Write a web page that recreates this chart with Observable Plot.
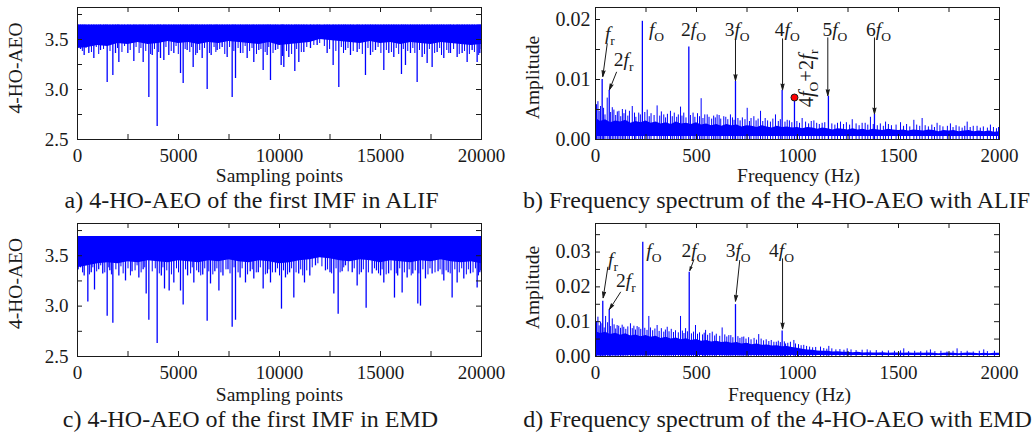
<!DOCTYPE html>
<html><head><meta charset="utf-8">
<script src="https://cdn.jsdelivr.net/npm/d3@7"></script>
<script src="https://cdn.jsdelivr.net/npm/@observablehq/plot@0.6"></script>
<style>
body{margin:0;background:#fff;}
#wrap{position:relative;width:1036px;height:432px;background:#fff;}
#wrap svg{position:absolute;}
</style></head><body><div id="wrap"></div>
<script>
// ---------------- DATA ----------------
// time-domain panels (a: ALIF, c: EMD)
const timeTicks = [0, 5000, 10000, 15000, 20000];
const timeMinor = [0, 2500, 5000, 7500, 10000, 12500, 15000, 17500, 20000];
const aeoTicks = [2.5, 3.0, 3.5];
const aeoMinor = [2.5, 2.75, 3.0, 3.25, 3.5, 3.75];
const bodyStep = 500;
const aTop = 3.645;
const aBodyLow = [3.41,3.42,3.44,3.43,3.46,3.45,3.47,3.45,3.46,3.48,3.46,3.47,3.45,3.47,3.46,3.48,3.47,3.46,3.45,3.47,3.44,3.45,3.46,3.47,3.50,3.49,3.48,3.47,3.46,3.48,3.46,3.47,3.45,3.47,3.46,3.45,3.47,3.46,3.45,3.44,3.45];
const aSpikes = [[150,3.40],[330,3.34],[560,3.36],[809,3.31],[1139,3.39],[1469,3.07],[1750,3.14],[1881,3.36],[2047,3.27],[2492,3.36],[2789,3.28],[3251,3.27],[3532,2.92],[3700,3.34],[3944,2.63],[4109,3.31],[4274,3.29],[4520,3.34],[4769,3.36],[5100,3.16],[5231,3.06],[5429,3.39],[5726,3.22],[5924,3.36],[6172,3.31],[6419,3.00],[6617,3.34],[6914,3.39],[7161,3.42],[7409,3.32],[7657,2.92],[7822,3.11],[8069,3.36],[8399,3.31],[8728,3.27],[8976,3.39],[9191,3.19],[9389,3.34],[9554,3.09],[9801,3.39],[10082,3.24],[10214,3.22],[10461,3.32],[10758,3.18],[10956,3.27],[11204,3.37],[11534,3.41],[11864,3.44],[12359,3.36],[12656,3.24],[12936,3.02],[13266,3.39],[13514,3.34],[13844,3.37],[14256,3.14],[14504,3.34],[14751,3.39],[15164,3.19],[15411,3.36],[15659,3.32],[16038,3.15],[16236,3.24],[16484,3.36],[16814,3.07],[17061,3.32],[17309,3.26],[17556,3.22],[17804,3.37],[18134,3.31],[18464,3.36],[18794,3.32],[19041,3.36],[19289,3.27],[19536,3.39],[19784,3.27],[19916,3.36]];
const aFine = [[60,3.43],[240,3.38],[420,3.41],[690,3.37],[930,3.42],[1050,3.35],[1290,3.40],[1380,3.44],[1610,3.38],[1980,3.41],[2200,3.37],[2330,3.43],[2610,3.39],[2900,3.42],[3050,3.36],[3140,3.41],[3380,3.38],[3620,3.35],[3810,3.40],[4020,3.37],[4380,3.42],[4640,3.38],[4880,3.43],[4990,3.35],[5330,3.40],[5560,3.37],[5650,3.42],[5850,3.34],[6050,3.39],[6290,3.41],[6530,3.36],[6760,3.42],[6850,3.37],[7040,3.40],[7290,3.35],[7530,3.42],[7740,3.38],[7950,3.41],[8190,3.36],[8300,3.43],[8520,3.38],[8640,3.41],[8860,3.35],[9080,3.40],[9290,3.37],[9470,3.42],[9680,3.36],[9920,3.40],[10150,3.33],[10350,3.38],[10600,3.35],[10850,3.40],[11080,3.37],[11350,3.42],[11700,3.44],[11990,3.46],[12220,3.43],[12480,3.40],[12790,3.38],[13060,3.42],[13170,3.36],[13390,3.41],[13650,3.38],[13950,3.40],[14100,3.35],[14380,3.41],[14620,3.37],[14880,3.42],[15020,3.36],[15290,3.39],[15540,3.37],[15780,3.41],[15900,3.35],[16130,3.40],[16350,3.38],[16600,3.41],[16700,3.36],[16930,3.39],[17180,3.35],[17420,3.40],[17680,3.36],[17930,3.41],[18020,3.34],[18280,3.39],[18380,3.36],[18620,3.40],[18900,3.35],[19160,3.38],[19400,3.35],[19650,3.37],[19860,3.34],[19980,3.40]];
const cTop = 3.69;
const cBodyLow = [3.38,3.40,3.42,3.43,3.42,3.44,3.43,3.45,3.44,3.43,3.45,3.44,3.43,3.45,3.44,3.46,3.44,3.43,3.45,3.44,3.42,3.43,3.45,3.46,3.48,3.47,3.45,3.44,3.46,3.45,3.43,3.45,3.44,3.43,3.45,3.44,3.46,3.44,3.43,3.44,3.42];
const cSpikes = [[150,3.38],[330,3.30],[512,3.04],[680,3.33],[842,3.16],[1050,3.36],[1250,3.32],[1469,2.90],[1600,3.35],[1750,2.83],[2047,3.30],[2377,3.25],[2700,3.34],[3037,3.28],[3250,3.36],[3400,3.12],[3532,2.86],[3944,2.63],[4150,3.30],[4307,3.17],[4538,3.15],[4769,3.23],[5099,3.15],[5231,3.01],[5450,3.30],[5759,3.23],[6000,3.33],[6200,3.31],[6419,2.85],[6584,3.22],[6800,3.34],[7000,3.15],[7200,3.30],[7450,3.36],[7657,2.79],[7822,2.86],[8050,3.28],[8316,3.23],[8550,3.34],[8728,3.27],[8950,3.33],[9191,3.17],[9400,3.32],[9554,3.23],[9800,3.33],[10098,2.97],[10296,3.28],[10500,3.33],[10709,3.08],[10950,3.32],[11237,3.23],[11500,3.30],[11781,3.40],[12276,3.35],[12500,3.33],[12689,3.12],[12904,2.92],[13100,3.34],[13266,3.40],[13600,3.33],[13844,3.20],[14050,3.33],[14289,2.98],[14586,3.32],[14800,3.35],[15000,3.30],[15164,3.23],[15400,3.32],[15692,3.08],[15850,3.30],[16071,3.13],[16319,3.28],[16600,3.32],[16847,3.02],[16979,3.00],[17226,3.27],[17556,3.32],[17850,3.34],[18134,3.25],[18350,3.33],[18546,3.08],[18794,3.23],[19124,3.27],[19454,3.32],[19784,3.18],[19916,3.33]];
const cFine = [[40,3.36],[250,3.33],[420,3.40],[590,3.31],[760,3.38],[950,3.34],[1150,3.40],[1350,3.33],[1550,3.38],[1680,3.31],[1900,3.36],[2150,3.39],[2260,3.32],[2500,3.37],[2620,3.30],[2850,3.35],[2950,3.40],[3150,3.33],[3330,3.38],[3700,3.34],[3850,3.37],[4050,3.32],[4230,3.38],[4420,3.35],[4650,3.31],[4900,3.37],[5000,3.33],[5350,3.36],[5600,3.32],[5680,3.38],[5900,3.35],[6100,3.30],[6300,3.37],[6500,3.34],[6700,3.31],[6900,3.37],[7100,3.33],[7350,3.36],[7550,3.32],[7750,3.38],[7950,3.33],[8150,3.37],[8420,3.31],[8650,3.36],[8850,3.33],[9050,3.38],[9300,3.31],[9480,3.36],[9650,3.33],[9900,3.37],[10000,3.30],[10200,3.35],[10400,3.31],[10600,3.37],[10820,3.33],[11050,3.36],[11150,3.30],[11350,3.35],[11620,3.38],[11900,3.42],[12100,3.39],[12380,3.36],[12580,3.32],[12800,3.37],[13000,3.33],[13180,3.38],[13400,3.34],[13700,3.37],[13950,3.31],[14150,3.36],[14400,3.33],[14700,3.37],[14900,3.32],[15080,3.36],[15280,3.31],[15520,3.35],[15780,3.32],[15950,3.37],[16180,3.33],[16420,3.36],[16520,3.30],[16720,3.35],[16900,3.32],[17100,3.36],[17350,3.31],[17450,3.37],[17700,3.33],[17950,3.36],[18050,3.31],[18250,3.35],[18450,3.32],[18680,3.36],[18900,3.33],[19020,3.37],[19250,3.31],[19350,3.36],[19580,3.33],[19700,3.37],[19850,3.30],[19960,3.35]];

// spectrum panels (b: ALIF, d: EMD)
const freqTicks = [0, 500, 1000, 1500, 2000];
const freqMinor = [0, 250, 500, 750, 1000, 1250, 1500, 1750, 2000];
const bAmpTicks = [0, 0.01, 0.02];
const bAmpMinor = [0, 0.005, 0.01, 0.015, 0.02];
const dAmpTicks = [0, 0.01, 0.02, 0.03];
const dAmpMinor = [0, 0.005, 0.01, 0.015, 0.02, 0.025, 0.03, 0.035];
const noiseStep = 25;
const bFloor = 0.0005;
const bUpper = [0.0036,0.0030,0.0033,0.0028,0.0031,0.0029,0.0032,0.0027,0.0030,0.0028,0.0031,
0.0027,0.0029,0.0026,0.0028,0.0025,0.0029,0.0026,0.0027,0.0025,0.0028,
0.0024,0.0026,0.0023,0.0025,0.0022,0.0025,0.0023,0.0024,0.0021,0.0023,
0.0022,0.0020,0.0023,0.0021,0.0019,0.0022,0.0020,0.0021,0.0019,0.0020,
0.0018,0.0020,0.0019,0.0017,0.0019,0.0018,0.0016,0.0018,0.0017,0.0016,
0.0018,0.0016,0.0017,0.0015,0.0017,0.0016,0.0015,0.0017,0.0016,0.0015,
0.0016,0.0014,0.0016,0.0015,0.0014,0.0016,0.0015,0.0013,0.0015,0.0014,
0.0015,0.0013,0.0014,0.0015,0.0013,0.0014,0.0013,0.0014,0.0012,0.0013];
const bSpikes = [[12,0.0063],[25,0.0055],[58,0.0069],[91,0.0049],[116,0.0047],[149,0.0049],[182,0.0055],[214,0.0044],[256,0.0049],[305,0.0056],[338,0.0041],[371,0.0047],[421,0.0054],[437,0.0044],[483,0.0044],[523,0.0068],[553,0.0041],[602,0.0041],[635,0.0038],[668,0.0041],[751,0.0052],[784,0.0038],[817,0.0047],[891,0.0041],[949,0.0032],[1023,0.0035],[1081,0.0031],[1122,0.0027],[1213,0.0029],[1271,0.0033],[1320,0.0027],[1361,0.0037],[1436,0.0029],[1510,0.0028],[1576,0.0032],[1617,0.0035],[1691,0.0027],[1757,0.0026],[1840,0.0029],[1889,0.0022],[1955,0.0024]];
const bFine = [[5,0.0058],[18,0.0047],[40,0.0052],[47,0.0041],[75,0.0045],[83,0.0053],[100,0.0040],[108,0.0046],[125,0.0038],[133,0.0050],[141,0.0043],[160,0.0039],[168,0.0047],[193,0.0044],[200,0.0037],[222,0.0041],[244,0.0045],[266,0.0038],[275,0.0043],[290,0.0040],[318,0.0039],[326,0.0046],[347,0.0036],[356,0.0042],[380,0.0038],[390,0.0044],[402,0.0037],[410,0.0041],[428,0.0039],[448,0.0036],[470,0.0040],[492,0.0037],[505,0.0043],[515,0.0038],[532,0.0035],[541,0.0041],[562,0.0037],[575,0.0034],[585,0.0039],[593,0.0036],[612,0.0040],[620,0.0034],[645,0.0037],[655,0.0033],[678,0.0036],[686,0.0032],[705,0.0035],[716,0.0031],[727,0.0036],[740,0.0033],[762,0.0030],[770,0.0035],[795,0.0031],[805,0.0034],[828,0.0030],[840,0.0035],[852,0.0031],[866,0.0029],[878,0.0034],[905,0.0030],[915,0.0033],[938,0.0029],[960,0.0031],[972,0.0028],[997,0.0030],[1010,0.0027],[1040,0.0029],[1055,0.0026],[1068,0.0030],[1095,0.0027],[1108,0.0025],[1135,0.0028],[1170,0.0026],[1185,0.0024],[1198,0.0027],[1228,0.0025],[1242,0.0028],[1258,0.0024],[1290,0.0026],[1305,0.0023],[1335,0.0027],[1348,0.0024],[1375,0.0025],[1395,0.0023],[1410,0.0026],[1425,0.0022],[1450,0.0025],[1465,0.0023],[1488,0.0024],[1525,0.0022],[1540,0.0025],[1556,0.0021],[1590,0.0024],[1605,0.0022],[1632,0.0023],[1648,0.0021],[1665,0.0024],[1678,0.0020],[1705,0.0023],[1720,0.0021],[1742,0.0022],[1770,0.0020],[1785,0.0023],[1800,0.0021],[1815,0.0019],[1828,0.0022],[1855,0.0020],[1870,0.0022],[1905,0.0019],[1920,0.0021],[1940,0.0019],[1970,0.0020],[1985,0.0018],[1995,0.0020]];
const bPeaks = [[33,0.0100],[68,0.0082],[232,0.0197],[462,0.0154],[693,0.0097],[924,0.0082],[985,0.0070],[1153,0.0072],[1381,0.0042]];
const bMarked = [[985,0.0070]];
const bLabels = [[71,0.01767,"f_r"],[139,0.01333,"2f_r"],[302,0.01833,"f_O"],[485,0.01833,"2f_O"],[701,0.01833,"3f_O"],[949,0.01833,"4f_O"],[1185,0.01833,"5f_O"],[1401,0.01833,"6f_O"]];
const bRotLabel = [[1044,0.01017,"4f_O+2f_r"]];
const bArrows = [[58,0.01595,36,0.0105],[104,0.01122,69,0.00828],[693,0.01662,693,0.00983],[926,0.01678,926,0.00828],[1150,0.01695,1150,0.00733],[1381,0.01695,1381,0.00428]];

const dFloor = 0.0003;
const dUpper = [0.0072,0.0066,0.0070,0.0063,0.0067,0.0061,0.0065,0.0059,0.0062,0.0057,0.0060,
0.0055,0.0058,0.0052,0.0055,0.0050,0.0053,0.0048,0.0051,0.0046,0.0049,
0.0044,0.0046,0.0042,0.0044,0.0040,0.0042,0.0038,0.0040,0.0036,0.0038,
0.0034,0.0036,0.0032,0.0033,0.0030,0.0031,0.0028,0.0029,0.0026,0.0024,
0.0021,0.0019,0.0018,0.0016,0.0015,0.0015,0.0013,0.0014,0.0012,0.0012,
0.0011,0.0012,0.0010,0.0011,0.0010,0.0010,0.0011,0.0009,0.0010,0.0010,
0.0009,0.0010,0.0009,0.0010,0.0009,0.0010,0.0009,0.0008,0.0009,0.0010,
0.0009,0.0008,0.0009,0.0010,0.0009,0.0008,0.0009,0.0008,0.0009,0.0009];
const dSpikes = [[12,0.0113],[25,0.0099],[50,0.0115],[83,0.0108],[107,0.0089],[140,0.0084],[173,0.0094],[206,0.0086],[264,0.0115],[305,0.0089],[355,0.0084],[421,0.0115],[446,0.0080],[495,0.0089],[545,0.0075],[578,0.0070],[627,0.0082],[660,0.0060],[734,0.0056],[808,0.0063],[883,0.0041],[941,0.0036],[982,0.0046],[1031,0.0032],[1114,0.0027],[1155,0.0029],[1246,0.0022],[1345,0.0019],[1526,0.0022],[1658,0.0019],[1790,0.0022],[1922,0.0019]];
const dFine = [[5,0.0100],[18,0.0088],[32,0.0094],[43,0.0082],[60,0.0097],[75,0.0086],[92,0.0091],[100,0.0079],[115,0.0087],[124,0.0081],[132,0.0090],[150,0.0078],[160,0.0085],[182,0.0080],[190,0.0087],[198,0.0076],[215,0.0083],[224,0.0078],[244,0.0081],[255,0.0075],[272,0.0082],[283,0.0074],[294,0.0079],[315,0.0072],[326,0.0080],[338,0.0070],[346,0.0076],[364,0.0071],[375,0.0078],[386,0.0069],[396,0.0074],[410,0.0068],[430,0.0073],[438,0.0066],[455,0.0071],[475,0.0065],[485,0.0070],[505,0.0064],[515,0.0068],[530,0.0062],[538,0.0067],[555,0.0061],[566,0.0066],[590,0.0059],[598,0.0064],[615,0.0058],[640,0.0062],[650,0.0056],[670,0.0060],[680,0.0054],[705,0.0057],[715,0.0052],[725,0.0055],[745,0.0050],[758,0.0054],[770,0.0048],[785,0.0052],[797,0.0047],[820,0.0050],[832,0.0045],[845,0.0048],[858,0.0043],[870,0.0046],[895,0.0041],[905,0.0044],[915,0.0040],[935,0.0042],[952,0.0038],[965,0.0041],[990,0.0036],[1005,0.0034],[1018,0.0031],[1045,0.0029],[1060,0.0027],[1075,0.0025],[1090,0.0026],[1130,0.0023],[1145,0.0021],[1170,0.0022],[1190,0.0019],[1210,0.0020],[1230,0.0018],[1265,0.0019],[1290,0.0017],[1320,0.0018],[1360,0.0016],[1390,0.0017],[1420,0.0015],[1450,0.0016],[1480,0.0015],[1510,0.0016],[1550,0.0014],[1580,0.0015],[1610,0.0014],[1640,0.0016],[1680,0.0014],[1710,0.0015],[1740,0.0013],[1770,0.0015],[1810,0.0014],[1840,0.0015],[1870,0.0013],[1900,0.0015],[1940,0.0014],[1975,0.0015]];
const dPeaks = [[36,0.0159],[68,0.0134],[234,0.0328],[464,0.0242],[693,0.0149],[924,0.0073]];
const dLabels = [[87,0.0279,"f_r"],[150,0.0218,"2f_r"],[289,0.0303,"f_O"],[487,0.0303,"2f_O"],[706,0.0303,"3f_O"],[921,0.0303,"4f_O"]];
const dArrows = [[61,0.02566,38,0.01687],[124,0.01848,69,0.01351],[487,0.02779,467,0.02471],[714,0.02759,693,0.01589],[926,0.02807,926,0.00796]];

// texts
const captions = ["a) 4-HO-AEO of the first IMF in ALIF", "b) Frequency spectrum of the 4-HO-AEO with ALIF",
                  "c) 4-HO-AEO of the first IMF in EMD", "d) Frequency spectrum of the 4-HO-AEO with EMD"];
const xTitles = ["Sampling points", "Frequency (Hz)"];
const yTitles = ["4-HO-AEO", "Amplitude"];

// ---------------- DRAWING ----------------
const W = 518, H = 216, ML = 77, MR = 37;
const blue = "#0000ff", ink = "#1a1a1a";
const serif = "'Liberation Serif','Times New Roman',serif";

function edgeTicks(xm, ym, fw, fh) {
  return [
    Plot.tickX(xm, {x: d => d, insetTop: fh - 5, stroke: ink}),
    Plot.tickX(xm, {x: d => d, insetBottom: fh - 5, stroke: ink}),
    Plot.tickY(ym, {y: d => d, insetRight: fw - 5, stroke: ink}),
    Plot.tickY(ym, {y: d => d, insetLeft: fw - 5, stroke: ink})
  ];
}

function panel(o) {
  const fh = H - o.mt - o.mb, fw = W - ML - MR;
  return Plot.plot({
    width: W, height: H, marginLeft: ML, marginRight: MR, marginTop: o.mt, marginBottom: o.mb,
    style: {fontFamily: serif, color: ink, background: "transparent", overflow: "visible"},
    x: {domain: o.xDomain}, y: {domain: o.yDomain},
    marks: [
      ...o.marks,
      Plot.frame({stroke: ink, strokeWidth: 1}),
      ...edgeTicks(o.xMinor, o.yMinor, fw, fh),
      Plot.axisX({ticks: o.xTicks, tickSize: 0, tickPadding: 9, tickFormat: d => String(d), fontSize: 19, label: null}),
      Plot.axisY({ticks: o.yTicks, tickSize: 0, tickPadding: o.yPad, tickFormat: o.yFmt, fontSize: o.yFont, label: null}),
      Plot.text([o.xTitle], {text: d => d, frameAnchor: "bottom", dx: o.xtDx, dy: o.xtDy, fontSize: 19.5, lineAnchor: "middle"}),
      Plot.text([o.yTitle], {text: d => d, frameAnchor: "left", rotate: -90, dx: o.ytDx, dy: o.ytDy, fontSize: 19.5, lineAnchor: "middle", textAnchor: "middle"}),
      Plot.text([o.caption], {text: d => d, frameAnchor: "bottom", dx: o.capDx, dy: o.capDy, fontSize: 24, lineAnchor: "middle"})
    ]
  });
}

function timeMarks(bodyLow, top, spikes, fine) {
  const body = bodyLow.map((v, i) => ({x: i * bodyStep, lo: v}));
  return [
    Plot.areaY(body, {x: "x", y1: "lo", y2: top, fill: blue}),
    Plot.ruleX(fine, {x: d => d[0], y1: d => d[1], y2: top, stroke: blue, strokeWidth: 1}),
    Plot.ruleX(spikes, {x: d => d[0], y1: d => d[1], y2: top, stroke: blue, strokeWidth: 1.3})
  ];
}

function specMarks(upper, floor, spikes, fine, peaks) {
  const noise = upper.map((v, i) => ({f: i * noiseStep, amp: v}));
  return [
    Plot.areaY(noise, {x: "f", y1: floor, y2: "amp", fill: blue}),
    Plot.ruleX(fine, {x: d => d[0], y1: 0, y2: d => d[1], stroke: blue, strokeWidth: 1}),
    Plot.ruleX(spikes, {x: d => d[0], y1: 0, y2: d => d[1], stroke: blue, strokeWidth: 1}),
    Plot.ruleX(peaks, {x: d => d[0], y1: 0, y2: d => d[1], stroke: blue, strokeWidth: 1.3})
  ];
}

function annot(labels, arrows) {
  return [
    Plot.arrow(arrows, {x1: d => d[0], y1: d => d[1], x2: d => d[2], y2: d => d[3], stroke: ink, fill: ink, strokeWidth: 1, headLength: 9, headAngle: 30}),
    Plot.text(labels, {x: d => d[0], y: d => d[1], text: d => d[2], fontSize: 19.5, textAnchor: "middle", lineAnchor: "middle", fill: ink})
  ];
}

const pa = panel({mt: 7, mb: 77, xDomain: [0, 20000], yDomain: [2.5, 3.82],
  xTicks: timeTicks, xMinor: timeMinor, yTicks: aeoTicks, yMinor: aeoMinor, yPad: 9, yFmt: d => d.toFixed(1), yFont: 19,
  xTitle: xTitles[0], xtDx: 0, xtDy: 36, yTitle: yTitles[0], ytDx: -62, ytDy: -5.5,
  caption: captions[0], capDx: -28, capDy: 61,
  marks: timeMarks(aBodyLow, aTop, aSpikes, aFine)});

const pb = panel({mt: 7, mb: 77, xDomain: [0, 2000], yDomain: [0, 0.022],
  xTicks: freqTicks, xMinor: freqMinor, yTicks: bAmpTicks, yMinor: bAmpMinor, yPad: 5, yFmt: d => d.toFixed(2), yFont: 20,
  xTitle: xTitles[1], xtDx: 1, xtDy: 36, yTitle: yTitles[1], ytDx: -63, ytDy: 4,
  caption: captions[1], capDx: -21, capDy: 61,
  marks: [...specMarks(bUpper, bFloor, bSpikes, bFine, bPeaks),
    Plot.dot(bMarked, {x: d => d[0], y: d => d[1], r: 3.5, fill: "#ff0000", stroke: ink, strokeWidth: 1}),
    ...annot(bLabels, bArrows),
    Plot.text(bRotLabel, {x: d => d[0], y: d => d[1], text: d => d[2], rotate: -90, fontSize: 20.5, textAnchor: "middle", lineAnchor: "middle", fill: ink})]});

const pc = panel({mt: 7, mb: 76, xDomain: [0, 20000], yDomain: [2.5, 3.82],
  xTicks: timeTicks, xMinor: timeMinor, yTicks: aeoTicks, yMinor: aeoMinor, yPad: 9, yFmt: d => d.toFixed(1), yFont: 19,
  xTitle: xTitles[0], xtDx: 0, xtDy: 38, yTitle: yTitles[0], ytDx: -62, ytDy: -6.5,
  caption: captions[2], capDx: -29, capDy: 63,
  marks: timeMarks(cBodyLow, cTop, cSpikes, cFine)});

const pd = panel({mt: 7, mb: 76, xDomain: [0, 2000], yDomain: [0, 0.0382],
  xTicks: freqTicks, xMinor: freqMinor, yTicks: dAmpTicks, yMinor: dAmpMinor, yPad: 5, yFmt: d => d.toFixed(2), yFont: 20,
  xTitle: xTitles[1], xtDx: -8, xtDy: 38, yTitle: yTitles[1], ytDx: -63, ytDy: -2.5,
  caption: captions[3], capDx: -20, capDy: 63,
  marks: [...specMarks(dUpper, dFloor, dSpikes, dFine, dPeaks), ...annot(dLabels, dArrows)]});

// italic f and subscripts for harmonic labels
function richify(svg) {
  d3.select(svg).selectAll("text").each(function () {
    const t = this.textContent;
    if (!t.includes("_")) return;
    const el = d3.select(this);
    el.text(null);
    let sub = false;
    for (let i = 0; i < t.length; i++) {
      const c = t[i];
      if (c === "_") {
        el.append("tspan").attr("font-size", "13.5px").attr("dy", "5").text(t[++i]);
        sub = true;
        continue;
      }
      const ts = el.append("tspan").text(c);
      if (sub) { ts.attr("dy", "-5"); sub = false; }
      if (c === "f") ts.attr("font-style", "italic");
    }
  });
}

const wrap = document.getElementById("wrap");
[[pa, 0, 0], [pb, 518, 0], [pc, 0, 216], [pd, 518, 216]].forEach(([p, x, y]) => {
  richify(p);
  p.style.left = x + "px";
  p.style.top = y + "px";
  wrap.appendChild(p);
});
</script>
</body></html>
